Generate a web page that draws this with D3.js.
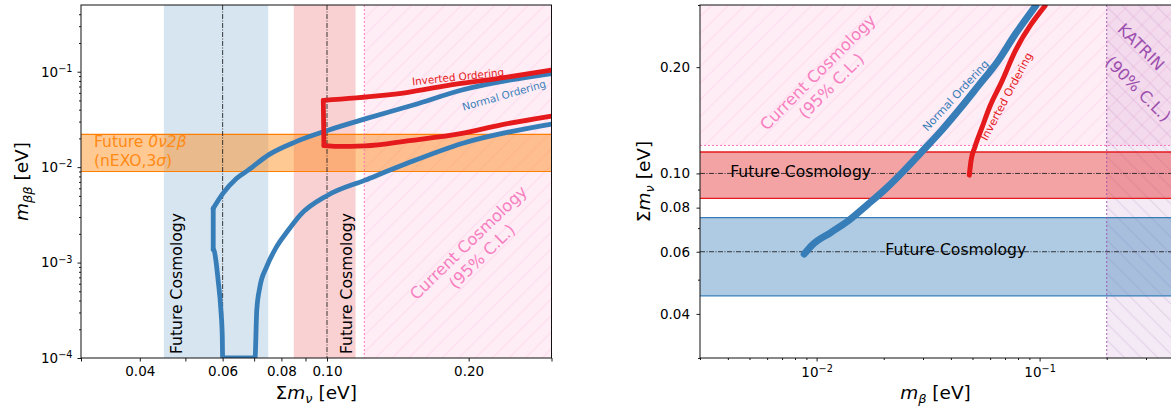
<!DOCTYPE html>
<html><head><meta charset="utf-8">
<script src="https://cdn.jsdelivr.net/npm/d3@7"></script>
<style>
html,body{margin:0;padding:0;background:#fff;}
svg{display:block;}
text{font-family:"DejaVu Sans","Liberation Sans",sans-serif;}
</style></head>
<body>
<svg id="chart" width="1171" height="411"></svg>
<script>
// ================= DATA =================
// Left panel: effective Majorana mass m_bb [eV] vs sum of neutrino masses [eV]
const noUpperSum = [0.0573, 0.0601, 0.0642, 0.0680, 0.0754, 0.0857, 0.1006, 0.1215, 0.1526, 0.1936, 0.3000];
const noUpperMbb = [0.00369, 0.0053, 0.0076, 0.0093, 0.0136, 0.0184, 0.0244, 0.0324, 0.0448, 0.0643, 0.0957];
const noLowerSum = [0.0573, 0.0575, 0.0587, 0.0595, 0.0599, 0.0600, 0.0703, 0.0709, 0.0720, 0.0744, 0.0781, 0.0827, 0.0876, 0.1004, 0.1205, 0.1476, 0.1936, 0.3000];
const noLowerMbb = [0.00137, 0.00135, 0.00065, 0.000316, 0.000166, 0.0001, 0.0001, 0.000316, 0.000555, 0.0009, 0.00146, 0.00218, 0.00313, 0.00508, 0.00731, 0.0109, 0.0177, 0.0283];
const ioUpperSum = [0.0982, 0.1296, 0.1476, 0.1798, 0.2333, 0.3000];
const ioUpperMbb = [0.0500, 0.0560, 0.0605, 0.0715, 0.0855, 0.1040];
const ioLowerSum = [0.0985, 0.1050, 0.1203, 0.1500, 0.1936, 0.2333, 0.3000];
const ioLowerMbb = [0.0168, 0.0165, 0.0167, 0.0190, 0.0226, 0.0276, 0.0343];

// Right panel: sum of masses [eV] vs beta-decay mass m_beta [eV]
const noMbeta = [0.0088, 0.00956, 0.01158, 0.01402, 0.01697, 0.0205, 0.0248, 0.0301, 0.0364, 0.0440, 0.0533, 0.0645, 0.0780, 0.0962];
const noSigma = [0.0591, 0.0627, 0.0680, 0.0738, 0.0817, 0.0907, 0.1022, 0.1164, 0.1325, 0.1527, 0.1776, 0.2066, 0.2486, 0.2988];
const ioMbeta = [0.0484, 0.0493, 0.0513, 0.0553, 0.0597, 0.0670, 0.0780, 0.1059];
const ioSigma = [0.0989, 0.1090, 0.1189, 0.1354, 0.1542, 0.1796, 0.2230, 0.2988];

// Bands / limits
const futureNO = [0.045, 0.075];     // future cosmology around 0.06
const futureIO = [0.085, 0.115];     // future cosmology around 0.10
const futureCenters = [0.06, 0.10];
const currentCosmo = 0.12;           // current cosmology 95% C.L.
const nexoBand = [0.009, 0.022];     // future 0v2b nEXO 3 sigma
const katrinLimit = 0.2;             // KATRIN 90% C.L.

// Ticks
const sumTicks = [0.04, 0.06, 0.08, 0.10, 0.20];
const sumTickLabels = ['0.04', '0.06', '0.08', '0.10', '0.20'];
const sumMinorTicks = [0.03, 0.05, 0.07, 0.09, 0.3];
const mbbTicks = [1e-4, 1e-3, 1e-2, 1e-1];
const mbbTickExp = ['−4', '−3', '−2', '−1'];
const mbbMinorTicks = [2e-4,3e-4,4e-4,5e-4,6e-4,7e-4,8e-4,9e-4,2e-3,3e-3,4e-3,5e-3,6e-3,7e-3,8e-3,9e-3,2e-2,3e-2,4e-2,5e-2,6e-2,7e-2,8e-2,9e-2,0.2,0.3,0.4];
const mbetaTicks = [0.01, 0.1];
const mbetaTickExp = ['−2', '−1'];
const mbetaMinorTicks = [0.003,0.004,0.005,0.006,0.007,0.008,0.009,0.02,0.03,0.04,0.05,0.06,0.07,0.08,0.09,0.2,0.3];

// ================= COLORS =================
const cBlue = '#377eb8', cRed = '#e41a1c', cOrange = '#ff7f00', cPink = '#ff69b4', cPurple = '#9c4fae';

// ================= SETUP =================
const svg = d3.select('#chart');
const defs = svg.append('defs');

function hatch(id, color, dir) {
  const s = 16.67;
  const p = defs.append('pattern').attr('id', id).attr('patternUnits', 'userSpaceOnUse')
    .attr('width', s).attr('height', s);
  const d = dir === '/'
    ? `M0,${s} L${s},0 M-2,2 L2,-2 M${s-2},${s+2} L${s+2},${s-2}`
    : `M0,0 L${s},${s} M-2,${s-2} L2,${s+2} M${s-2},-2 L${s+2},2`;
  p.append('path').attr('d', d).attr('stroke', color).attr('stroke-width', 1).attr('fill', 'none');
}
hatch('hPink', 'rgba(240,120,180,0.16)', '/');
hatch('hPurple', 'rgba(140,60,160,0.16)', '\\');

function rich(sel, parts, size) {
  let cur = 0;
  parts.forEach(p => {
    const t = sel.append('tspan').text(p.t);
    let want = 0;
    if (p.it) t.attr('font-style', 'italic');
    if (p.sub) { t.attr('font-size', size * 0.7); want = size * 0.24; }
    if (p.sup) { t.attr('font-size', size * 0.72); want = -size * 0.36; }
    if (want !== cur) t.attr('dy', want - cur);
    cur = want;
  });
}

// ================= LEFT PANEL =================
const xL = d3.scaleLog().domain([0.03, 0.3]).range([81, 551.5]);
const yL = d3.scaleLog().domain([1e-4, 0.5]).range([358, 5]);
const [lx0, lx1] = xL.range(), [ly0, ly1] = yL.range();

defs.append('clipPath').attr('id', 'clipL').append('rect')
  .attr('x', lx0).attr('y', ly1).attr('width', lx1 - lx0).attr('height', ly0 - ly1);
const gL = svg.append('g').attr('clip-path', 'url(#clipL)');

// current cosmology region
gL.append('rect').attr('x', xL(currentCosmo)).attr('y', ly1).attr('width', lx1 - xL(currentCosmo)).attr('height', ly0 - ly1)
  .attr('fill', cPink).attr('fill-opacity', 0.12);
gL.append('rect').attr('x', xL(currentCosmo)).attr('y', ly1).attr('width', lx1 - xL(currentCosmo)).attr('height', ly0 - ly1)
  .attr('fill', 'url(#hPink)');
// future cosmology bands
gL.append('rect').attr('x', xL(futureNO[0])).attr('y', ly1).attr('width', xL(futureNO[1]) - xL(futureNO[0])).attr('height', ly0 - ly1)
  .attr('fill', cBlue).attr('fill-opacity', 0.2);
gL.append('rect').attr('x', xL(futureIO[0])).attr('y', ly1).attr('width', xL(futureIO[1]) - xL(futureIO[0])).attr('height', ly0 - ly1)
  .attr('fill', cRed).attr('fill-opacity', 0.2);
// nEXO band
gL.append('rect').attr('x', lx0).attr('y', yL(nexoBand[1])).attr('width', lx1 - lx0).attr('height', yL(nexoBand[0]) - yL(nexoBand[1]))
  .attr('fill', cOrange).attr('fill-opacity', 0.42);
nexoBand.forEach(v => gL.append('line').attr('x1', lx0).attr('x2', lx1).attr('y1', yL(v)).attr('y2', yL(v))
  .attr('stroke', cOrange).attr('stroke-width', 1.2));
// current cosmology edge
gL.append('line').attr('x1', xL(currentCosmo)).attr('x2', xL(currentCosmo)).attr('y1', ly1).attr('y2', ly0)
  .attr('stroke', cPink).attr('stroke-width', 0.9).attr('stroke-dasharray', '2,2');
// future centers
futureCenters.forEach(v => gL.append('line').attr('x1', xL(v)).attr('x2', xL(v)).attr('y1', ly1).attr('y2', ly0)
  .attr('stroke', '#222').attr('stroke-width', 0.9).attr('stroke-dasharray', '5,1.5,1,1.5'));

// curves
const lineL = d3.line().x(d => xL(d[0])).y(d => yL(d[1]));
const lineLm = d3.line().x(d => xL(d[0])).y(d => yL(d[1])).curve(d3.curveMonotoneX);
function curveL(sums, vals, color, smooth) {
  gL.append('path').datum(d3.zip(sums, vals)).attr('d', smooth ? lineLm : lineL)
    .attr('fill', 'none').attr('stroke', color).attr('stroke-width', 4.8)
    .attr('stroke-linecap', 'round').attr('stroke-linejoin', 'round');
}
curveL(noUpperSum, noUpperMbb, cBlue, true);
curveL([noUpperSum[0], noLowerSum[0]], [noUpperMbb[0], noLowerMbb[0]], cBlue, false);
curveL(noLowerSum, noLowerMbb, cBlue, true);
curveL(ioUpperSum, ioUpperMbb, cRed, true);
curveL([ioUpperSum[0], ioLowerSum[0]], [ioUpperMbb[0], ioLowerMbb[0]], cRed, false);
curveL(ioLowerSum, ioLowerMbb, cRed, true);

// texts left
const tL = svg.append('g');
tL.append('text').attr('transform', 'translate(182,354) rotate(-90)').attr('font-size', 15.6).attr('fill', '#000').text('Future Cosmology');
tL.append('text').attr('transform', 'translate(352,354) rotate(-90)').attr('font-size', 15.6).attr('fill', '#000').text('Future Cosmology');
{
  const t1 = tL.append('text').attr('x', 94).attr('y', 146.7).attr('font-size', 15.5).attr('fill', '#ff8a14');
  rich(t1, [{t: 'Future '}, {t: '0ν2β', it: 1}], 15.5);
  const t2 = tL.append('text').attr('x', 94).attr('y', 165.7).attr('font-size', 15.5).attr('fill', '#ff8a14');
  rich(t2, [{t: '(nEXO,3'}, {t: 'σ', it: 1}, {t: ')'}], 15.5);
}
tL.append('text').attr('transform', 'translate(468.5,242.8) rotate(-44)').attr('text-anchor', 'middle')
  .attr('dominant-baseline', 'central').attr('font-size', 16.2).attr('fill', '#f77fc0').text('Current Cosmology');
tL.append('text').attr('transform', 'translate(482.1,256.4) rotate(-44)').attr('text-anchor', 'middle')
  .attr('dominant-baseline', 'central').attr('font-size', 16.2).attr('fill', '#f77fc0').text('(95% C.L.)');
tL.append('text').attr('transform', 'translate(458,76.5) rotate(-6)').attr('text-anchor', 'middle')
  .attr('dominant-baseline', 'central').attr('font-size', 10.4).attr('fill', cRed).text('Inverted Ordering');
tL.append('text').attr('transform', 'translate(504,95) rotate(-16)').attr('text-anchor', 'middle')
  .attr('dominant-baseline', 'central').attr('font-size', 10.4).attr('fill', cBlue).text('Normal Ordering');

// axes left
function styleAxis(g, size) {
  g.select('.domain').remove();
  g.selectAll('.tick line').attr('stroke', '#000').attr('stroke-width', 0.9);
  g.selectAll('.tick text').attr('font-size', size).attr('font-family', '"DejaVu Sans",sans-serif').attr('fill', '#000');
  g.attr('font-family', null).attr('font-size', null);
}
{
  const g = svg.append('g').attr('transform', `translate(0,${ly0})`)
    .call(d3.axisBottom(xL).tickValues(sumTicks).tickSize(3.5).tickPadding(5).tickFormat((d, i) => sumTickLabels[i]));
  styleAxis(g, 13.5);
  const gm = svg.append('g').attr('transform', `translate(0,${ly0})`)
    .call(d3.axisBottom(xL).tickValues(sumMinorTicks).tickSize(3.5).tickFormat(''));
  styleAxis(gm, 13.5);
  const gy = svg.append('g').attr('transform', `translate(${lx0},0)`)
    .call(d3.axisLeft(yL).tickValues(mbbTicks).tickSize(3.5).tickPadding(5).tickFormat(''));
  styleAxis(gy, 13.5);
  gy.selectAll('.tick text').each(function (d, i) {
    rich(d3.select(this), [{t: '10'}, {t: mbbTickExp[i], sup: 1}], 13.5);
  });
  const gym = svg.append('g').attr('transform', `translate(${lx0},0)`)
    .call(d3.axisLeft(yL).tickValues(mbbMinorTicks).tickSize(2).tickFormat(''));
  styleAxis(gym, 13.5);
}
svg.append('rect').attr('x', lx0).attr('y', ly1).attr('width', lx1 - lx0).attr('height', ly0 - ly1)
  .attr('fill', 'none').attr('stroke', '#111').attr('stroke-width', 1);
{
  const t = svg.append('text').attr('x', (lx0 + lx1) / 2).attr('y', 399).attr('text-anchor', 'middle').attr('font-size', 18.5);
  rich(t, [{t: 'Σ'}, {t: 'm', it: 1}, {t: 'ν', it: 1, sub: 1}, {t: ' [eV]'}], 18.5);
  const ty = svg.append('text').attr('transform', `translate(27.5,${(ly0 + ly1) / 2}) rotate(-90)`).attr('text-anchor', 'middle').attr('font-size', 18.5);
  rich(ty, [{t: 'm', it: 1}, {t: 'ββ', it: 1, sub: 1}, {t: ' [eV]'}], 18.5);
}

// ================= RIGHT PANEL =================
const xR = d3.scaleLog().domain([0.003, 0.4]).range([700, 700 + Math.log10(0.4 / 0.003) * 223]);
const yR = d3.scaleLog().domain([0.03, 0.3]).range([358, 5]);
const [rx0, rx1] = xR.range(), [ry0, ry1] = yR.range();

defs.append('clipPath').attr('id', 'clipR').append('rect')
  .attr('x', rx0).attr('y', ry1).attr('width', rx1 - rx0).attr('height', ry0 - ry1);
const gR = svg.append('g').attr('clip-path', 'url(#clipR)');

gR.append('rect').attr('x', rx0).attr('y', ry1).attr('width', rx1 - rx0).attr('height', yR(currentCosmo) - ry1)
  .attr('fill', cPink).attr('fill-opacity', 0.12);
gR.append('rect').attr('x', rx0).attr('y', ry1).attr('width', rx1 - rx0).attr('height', yR(currentCosmo) - ry1)
  .attr('fill', 'url(#hPink)');
gR.append('rect').attr('x', xR(katrinLimit)).attr('y', ry1).attr('width', rx1 - xR(katrinLimit)).attr('height', ry0 - ry1)
  .attr('fill', '#a05cb4').attr('fill-opacity', 0.13);
gR.append('rect').attr('x', xR(katrinLimit)).attr('y', ry1).attr('width', rx1 - xR(katrinLimit)).attr('height', ry0 - ry1)
  .attr('fill', 'url(#hPurple)');
// future bands
[[futureIO, cRed], [futureNO, cBlue]].forEach(([b, c]) => {
  gR.append('rect').attr('x', rx0).attr('y', yR(b[1])).attr('width', rx1 - rx0).attr('height', yR(b[0]) - yR(b[1]))
    .attr('fill', c).attr('fill-opacity', 0.4);
  b.forEach(v => gR.append('line').attr('x1', rx0).attr('x2', rx1).attr('y1', yR(v)).attr('y2', yR(v))
    .attr('stroke', c).attr('stroke-width', 1.3));
});
gR.append('line').attr('x1', rx0).attr('x2', rx1).attr('y1', yR(currentCosmo)).attr('y2', yR(currentCosmo))
  .attr('stroke', cPink).attr('stroke-width', 0.9).attr('stroke-dasharray', '2,2');
gR.append('line').attr('x1', xR(katrinLimit)).attr('x2', xR(katrinLimit)).attr('y1', ry1).attr('y2', ry0)
  .attr('stroke', cPurple).attr('stroke-width', 0.9).attr('stroke-dasharray', '2,2');
futureCenters.forEach(v => gR.append('line').attr('x1', rx0).attr('x2', rx1).attr('y1', yR(v)).attr('y2', yR(v))
  .attr('stroke', '#222').attr('stroke-width', 0.9).attr('stroke-dasharray', '5,1.5,1,1.5'));

gR.append('text').attr('x', 800.6).attr('y', 176.7).attr('text-anchor', 'middle').attr('font-size', 15.6).attr('fill', '#000').text('Future Cosmology');
gR.append('text').attr('x', 955.8).attr('y', 255).attr('text-anchor', 'middle').attr('font-size', 15.6).attr('fill', '#000').text('Future Cosmology');

const lineR = d3.line().x(d => xR(d[0])).y(d => yR(d[1])).curve(d3.curveMonotoneX);
gR.append('path').datum(d3.zip(noMbeta, noSigma)).attr('d', lineR).attr('fill', 'none')
  .attr('stroke', cBlue).attr('stroke-width', 7).attr('stroke-linecap', 'round');
gR.append('path').datum(d3.zip(ioMbeta, ioSigma)).attr('d', lineR).attr('fill', 'none')
  .attr('stroke', cRed).attr('stroke-width', 5).attr('stroke-linecap', 'round');

gR.append('text').attr('transform', 'translate(817.9,72.4) rotate(-45)').attr('text-anchor', 'middle')
  .attr('dominant-baseline', 'central').attr('font-size', 16.2).attr('fill', '#f77fc0').text('Current Cosmology');
gR.append('text').attr('transform', 'translate(831.5,86) rotate(-45)').attr('text-anchor', 'middle')
  .attr('dominant-baseline', 'central').attr('font-size', 16.2).attr('fill', '#f77fc0').text('(95% C.L.)');
gR.append('text').attr('transform', 'translate(955.9,95.8) rotate(-47.4)').attr('text-anchor', 'middle')
  .attr('dominant-baseline', 'central').attr('font-size', 11).attr('fill', cBlue).text('Normal Ordering');
gR.append('text').attr('transform', 'translate(1006.7,96.7) rotate(-62)').attr('text-anchor', 'middle')
  .attr('dominant-baseline', 'central').attr('font-size', 11).attr('fill', cRed).text('Inverted Ordering');
gR.append('text').attr('transform', 'translate(1141,47) rotate(45)').attr('text-anchor', 'middle')
  .attr('dominant-baseline', 'central').attr('font-size', 16.2).attr('fill', cPurple).text('KATRIN');
gR.append('text').attr('transform', 'translate(1138,89) rotate(45)').attr('text-anchor', 'middle')
  .attr('dominant-baseline', 'central').attr('font-size', 16.2).attr('fill', cPurple).text('(90% C.L.)');

// axes right
{
  const g = svg.append('g').attr('transform', `translate(0,${ry0})`)
    .call(d3.axisBottom(xR).tickValues(mbetaTicks).tickSize(3.5).tickPadding(5.5).tickFormat(''));
  styleAxis(g, 13.5);
  g.selectAll('.tick text').each(function (d, i) {
    rich(d3.select(this), [{t: '10'}, {t: mbetaTickExp[i], sup: 1}], 13.5);
  });
  const gm = svg.append('g').attr('transform', `translate(0,${ry0})`)
    .call(d3.axisBottom(xR).tickValues(mbetaMinorTicks).tickSize(2).tickFormat(''));
  styleAxis(gm, 13.5);
  const gy = svg.append('g').attr('transform', `translate(${rx0},0)`)
    .call(d3.axisLeft(yR).tickValues(sumTicks).tickSize(3.5).tickPadding(6.5).tickFormat((d, i) => sumTickLabels[i]));
  styleAxis(gy, 13.5);
  const gym = svg.append('g').attr('transform', `translate(${rx0},0)`)
    .call(d3.axisLeft(yR).tickValues(sumMinorTicks).tickSize(2).tickFormat(''));
  styleAxis(gym, 13.5);
}
svg.append('rect').attr('x', rx0).attr('y', ry1).attr('width', rx1 - rx0).attr('height', ry0 - ry1)
  .attr('fill', 'none').attr('stroke', '#111').attr('stroke-width', 1);
{
  const t = svg.append('text').attr('x', 935.5).attr('y', 399).attr('text-anchor', 'middle').attr('font-size', 18.5);
  rich(t, [{t: 'm', it: 1}, {t: 'β', it: 1, sub: 1}, {t: ' [eV]'}], 18.5);
  const ty = svg.append('text').attr('transform', `translate(650,${(ry0 + ry1) / 2}) rotate(-90)`).attr('text-anchor', 'middle').attr('font-size', 18.5);
  rich(ty, [{t: 'Σ'}, {t: 'm', it: 1}, {t: 'ν', it: 1, sub: 1}, {t: ' [eV]'}], 18.5);
}
</script>
</body></html>
